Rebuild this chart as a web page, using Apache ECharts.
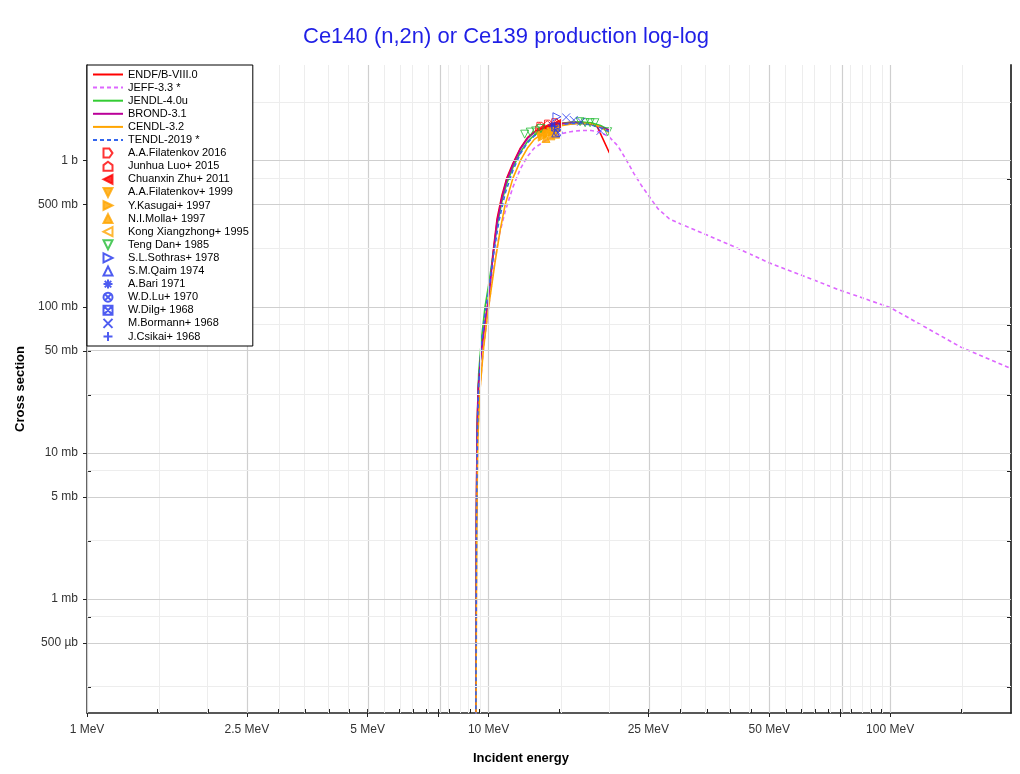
<!DOCTYPE html>
<html><head><meta charset="utf-8">
<script src="https://cdn.jsdelivr.net/npm/echarts@6/dist/echarts.min.js"></script>
<style>html,body{margin:0;padding:0;background:#fff}#chart{width:1020px;height:774px}</style>
</head><body><div id="chart"></div>
<script>
// ---- tick labels / axis values ----
const xLabelValues = [1, 2.5, 5, 10, 25, 50, 100];
const xTickLabels = ['1 MeV', '2.5 MeV', '5 MeV', '10 MeV', '25 MeV', '50 MeV', '100 MeV'];
const yLabelValues = [1, 0.5, 0.1, 0.05, 0.01, 0.005, 0.001, 0.0005];
const yTickLabels = ['1 b', '500 mb', '100 mb', '50 mb', '10 mb', '5 mb', '1 mb', '500 µb'];
const xMajorTicks = [1, 2.5, 5, 7.5, 10, 25, 50, 75, 100];
const xMinorTicks = [1.5, 2, 3, 3.5, 4, 4.5, 5.5, 6, 6.5, 7, 8, 8.5, 9, 9.5, 15, 20, 30, 35, 40, 45, 55, 60, 65, 70, 80, 85, 90, 95, 150];
const yMajorTicks = [1, 0.5, 0.1, 0.05, 0.01, 0.005, 0.001, 0.0005];
const yMinorTicks = [2.5, 0.75, 0.25, 0.075, 0.025, 0.0075, 0.0025, 0.00075, 0.00025];
const xRange = [1, 200];
const yRange = [1.66e-4, 4.52];

// ---- evaluated data (energy MeV, cross section b) ----
const endfE  = [9.29, 9.30, 9.32, 9.36, 9.42, 9.55, 9.75, 10.0, 10.25, 10.5, 10.8, 11.1, 11.5, 12.0, 12.5, 13.0, 14.0, 15.0, 16.0, 17.0, 17.9, 18.6, 20.0];
const endfXS = [1e-5, 2e-4, 0.003, 0.014, 0.028, 0.045, 0.072, 0.115, 0.23, 0.40, 0.58, 0.76, 0.96, 1.22, 1.44, 1.58, 1.72, 1.80, 1.83, 1.83, 1.80, 1.74, 1.13];

const jeffE  = [9.29, 9.31, 9.34, 9.40, 9.5, 9.7, 10.0, 10.3, 10.6, 11.0, 11.5, 12.0, 12.5, 13.0, 14.0, 15.0, 16.0, 17.0, 18.0, 19.0, 20.0, 21.0, 22.0, 23.0, 24.0, 25.0, 26.4, 28.2, 30, 35, 40, 50, 60, 75, 100, 150, 200];
const jeffXS = [1e-5, 2e-4, 0.003, 0.013, 0.026, 0.05, 0.10, 0.18, 0.30, 0.45, 0.66, 0.88, 1.07, 1.22, 1.40, 1.52, 1.58, 1.61, 1.61, 1.57, 1.45, 1.26, 1.02, 0.82, 0.68, 0.58, 0.47, 0.40, 0.37, 0.31, 0.265, 0.20, 0.165, 0.13, 0.099, 0.053, 0.0378];

const jendlE  = [9.29, 9.30, 9.33, 9.37, 9.45, 9.6, 9.8, 10.0, 10.25, 10.5, 10.8, 11.1, 11.5, 12.0, 12.5, 13.0, 14.0, 15.0, 16.0, 17.0, 18.0, 19.0, 20.0];
const jendlXS = [1e-5, 2e-4, 0.004, 0.015, 0.035, 0.06, 0.10, 0.14, 0.22, 0.36, 0.53, 0.70, 0.90, 1.14, 1.35, 1.50, 1.68, 1.78, 1.83, 1.84, 1.82, 1.74, 1.62];

const brondE  = [9.29, 9.30, 9.32, 9.36, 9.42, 9.55, 9.75, 10.0, 10.25, 10.5, 10.8, 11.1, 11.5, 12.0, 12.5, 13.0, 14.0, 15.0, 16.0, 17.0, 18.0, 19.0, 20.0];
const brondXS = [1e-5, 2e-4, 0.003, 0.013, 0.027, 0.044, 0.07, 0.11, 0.22, 0.38, 0.56, 0.74, 0.94, 1.20, 1.42, 1.56, 1.70, 1.78, 1.81, 1.81, 1.77, 1.70, 1.62];

const cendlE  = [9.29, 9.31, 9.34, 9.40, 9.5, 9.7, 9.9, 10.1, 10.4, 10.7, 11.0, 11.5, 12.0, 12.5, 13.0, 14.0, 15.0, 16.0, 17.0, 18.0, 19.0, 20.0];
const cendlXS = [1e-5, 2e-4, 0.003, 0.012, 0.025, 0.05, 0.08, 0.12, 0.21, 0.34, 0.50, 0.76, 1.00, 1.22, 1.40, 1.62, 1.73, 1.78, 1.80, 1.79, 1.70, 1.55];

const tendlE  = [9.29, 9.30, 9.33, 9.38, 9.45, 9.6, 9.8, 10.0, 10.3, 10.6, 11.0, 11.5, 12.0, 12.5, 13.0, 14.0, 15.0, 16.0, 17.0, 18.0, 19.0, 20.0];
const tendlXS = [1e-5, 2e-4, 0.0035, 0.014, 0.03, 0.055, 0.09, 0.13, 0.23, 0.38, 0.60, 0.86, 1.12, 1.33, 1.48, 1.66, 1.76, 1.80, 1.80, 1.76, 1.68, 1.58];

// ---- experimental data (energy MeV, cross section b) ----
const filat2016E = [13.5, 14.1, 14.7];      const filat2016XS = [1.72, 1.78, 1.82];
const luo2015E   = [13.4, 14.0, 14.8];      const luo2015XS   = [1.70, 1.76, 1.80];
const zhu2011E   = [13.5, 14.0, 14.5, 14.8]; const zhu2011XS  = [1.65, 1.70, 1.74, 1.80];
const filat1999E = [13.4, 13.8, 14.3, 14.7]; const filat1999XS = [1.48, 1.52, 1.58, 1.62];
const kasugaiE   = [13.6, 14.0, 14.4, 14.8]; const kasugaiXS  = [1.45, 1.52, 1.57, 1.60];
const mollaE     = [13.9, 14.3, 14.7];      const mollaXS     = [1.42, 1.48, 1.52];
const kongE      = [13.5, 14.1, 14.6];      const kongXS      = [1.55, 1.62, 1.66];
const tengE      = [12.3, 12.7, 13.1, 13.5, 16.9, 17.4, 17.9, 18.4, 19.8];
const tengXS     = [1.52, 1.57, 1.60, 1.66, 1.85, 1.82, 1.82, 1.82, 1.58];
const sothrasE   = [14.8];  const sothrasXS = [2.0];
const qaimE      = [14.7];  const qaimXS    = [1.55];
const bariE      = [14.4];  const bariXS    = [1.75];
const luE        = [14.9];  const luXS      = [1.56];
const dilgE      = [14.7];  const dilgXS    = [1.70];
const bormannE   = [15.6, 16.3, 17.0, 19.0]; const bormannXS = [1.98, 1.90, 1.85, 1.60];
const csikaiE    = [14.6];  const csikaiXS  = [1.72];

const L = Math.log10;
const pts = (E, S) => E.map((e, i) => [L(e), L(S[i])]);
const FONT = 'Liberation Sans, Arial, sans-serif';

const lineSeries = (name, E, S, color, type) => ({
  name, type: 'line', data: pts(E, S), symbol: 'none', showSymbol: false, z: 3,
  lineStyle: { color, width: 1.6, type: type || 'solid' }, itemStyle: { color },
  clip: true, silent: true, animation: false
});
const scat = (name, E, S, symbol, color, filled) => ({
  name, type: 'scatter', data: pts(E, S), symbol, symbolSize: 8, z: 4, symbolKeepAspect: true,
  itemStyle: { color: filled ? color : 'rgba(0,0,0,0)', borderColor: color, borderWidth: 1 },
  silent: true, animation: false
});

const RED = '#ff0000', ORG = '#ffa500', GRN = '#22bb33', BLU = '#2233ee';
const SYM = {
  homeRight: 'path://M-1,-1L0.3,-1L1,0L0.3,1L-1,1Z',
  house: 'path://M0,-1L1,-0.25L1,1L-1,1L-1,-0.25Z',
  triUp: 'path://M0,-1L1,1L-1,1Z',
  triDown: 'path://M-1,-1L1,-1L0,1Z',
  triLeft: 'path://M-1,0L1,-1L1,1Z',
  triRight: 'path://M1,0L-1,-1L-1,1Z',
  asterisk: 'path://M0,-1L0,1M-1,0L1,0M-0.72,-0.72L0.72,0.72M-0.72,0.72L0.72,-0.72',
  circX: 'path://M1,0A1,1,0,1,1,-1,0A1,1,0,1,1,1,0ZM-0.7,-0.7L0.7,0.7M-0.7,0.7L0.7,-0.7',
  sqX: 'path://M-1,-1L1,-1L1,1L-1,1ZM-1,-1L1,1M-1,1L1,-1',
  cross: 'path://M-1,-1L1,1M-1,1L1,-1',
  plus: 'path://M0,-1.2L0,1.2M-1.2,0L1.2,0'
};

const gridLines = [];
xMajorTicks.forEach(v => gridLines.push({ xAxis: L(v), lineStyle: { color: '#cfcfcf', width: 1.2 } }));
xMinorTicks.forEach(v => gridLines.push({ xAxis: L(v), lineStyle: { color: '#ededed', width: 1 } }));
yMajorTicks.forEach(v => gridLines.push({ yAxis: L(v), lineStyle: { color: '#cfcfcf', width: 1.2 } }));
yMinorTicks.forEach(v => gridLines.push({ yAxis: L(v), lineStyle: { color: '#ededed', width: 1 } }));

const series = [
  { name: '_grid', type: 'line', data: [], z: 1, silent: true,
    markLine: { silent: true, symbol: ['none', 'none'], label: { show: false }, animation: false,
      lineStyle: { type: 'solid' }, emphasis: { disabled: true }, data: gridLines } },
  lineSeries('ENDF/B-VIII.0', endfE, endfXS, RED),
  lineSeries('JEFF-3.3 *', jeffE, jeffXS, '#dd66ff', [4, 3]),
  lineSeries('JENDL-4.0u', jendlE, jendlXS, '#33cc33'),
  lineSeries('BROND-3.1', brondE, brondXS, '#bb0099'),
  lineSeries('CENDL-3.2', cendlE, cendlXS, ORG),
  lineSeries('TENDL-2019 *', tendlE, tendlXS, '#3366ee', [4, 3]),
  scat('A.A.Filatenkov 2016', filat2016E, filat2016XS, SYM.homeRight, RED, false),
  scat('Junhua Luo+ 2015', luo2015E, luo2015XS, SYM.house, RED, false),
  scat('Chuanxin Zhu+ 2011', zhu2011E, zhu2011XS, SYM.triLeft, RED, true),
  scat('A.A.Filatenkov+ 1999', filat1999E, filat1999XS, SYM.triDown, ORG, true),
  scat('Y.Kasugai+ 1997', kasugaiE, kasugaiXS, SYM.triRight, ORG, true),
  scat('N.I.Molla+ 1997', mollaE, mollaXS, SYM.triUp, ORG, true),
  scat('Kong Xiangzhong+ 1995', kongE, kongXS, SYM.triLeft, ORG, false),
  scat('Teng Dan+ 1985', tengE, tengXS, SYM.triDown, GRN, false),
  scat('S.L.Sothras+ 1978', sothrasE, sothrasXS, SYM.triRight, BLU, false),
  scat('S.M.Qaim 1974', qaimE, qaimXS, SYM.triUp, BLU, false),
  scat('A.Bari 1971', bariE, bariXS, SYM.asterisk, BLU, false),
  scat('W.D.Lu+ 1970', luE, luXS, SYM.circX, BLU, false),
  scat('W.Dilg+ 1968', dilgE, dilgXS, SYM.sqX, BLU, false),
  scat('M.Bormann+ 1968', bormannE, bormannXS, SYM.cross, BLU, false),
  scat('J.Csikai+ 1968', csikaiE, csikaiXS, SYM.plus, BLU, false)
];

const legendData = series.filter(s => s.name !== '_grid').map(s => s.type === 'line'
  ? { name: s.name, itemStyle: { color: 'rgba(0,0,0,0)', borderColor: 'rgba(0,0,0,0)', borderWidth: 0, opacity: 0 } }
  : { name: s.name });

const fmt = (vals, labels) => v => {
  const i = vals.findIndex(x => Math.abs(L(x) - v) < 1e-4);
  return i >= 0 ? labels[i] : '';
};
const allX = xMajorTicks.concat(xMinorTicks).map(L);
const allY = yMajorTicks.concat(yMinorTicks).map(L);
const xBase = { type: 'value', min: L(xRange[0]), max: L(xRange[1]), position: 'bottom', splitLine: { show: false } };
const yBase = { type: 'value', min: L(yRange[0]), max: L(yRange[1]), splitLine: { show: false } };

const chart = echarts.init(document.getElementById('chart'), null, { renderer: 'canvas' });
chart.setOption({
  animation: false,
  backgroundColor: '#fff',
  title: {
    text: 'Ce140 (n,2n) or Ce139 production log-log', left: 298, top: 21,
    textStyle: { fontFamily: FONT, fontSize: 22, fontWeight: 'normal', color: '#1f1fe6' }
  },
  grid: { left: 87, right: 9, top: 65, bottom: 61, containLabel: false },
  legend: {
    orient: 'vertical', left: 87, top: 65, backgroundColor: '#fff', borderColor: '#000', borderWidth: 1,
    padding: [4, 4, 4, 5], itemGap: 2.1, itemWidth: 30, itemHeight: 9, z: 10,
    textStyle: { fontFamily: FONT, fontSize: 11, lineHeight: 11, color: '#000' },
    data: legendData, selectedMode: false
  },
  xAxis: [
    Object.assign({}, xBase, {
      name: 'Incident energy', nameLocation: 'middle', nameGap: 39,
      nameTextStyle: { fontFamily: FONT, fontSize: 13, fontWeight: 'bold', color: '#000', padding: [0, 56, 0, 0] },
      axisLine: { show: true, onZero: false, lineStyle: { color: '#222', width: 1.5 } },
      axisTick: { show: true, inside: true, length: 4, customValues: allX, lineStyle: { color: '#222' } },
      axisLabel: { show: true, margin: 11, customValues: xLabelValues.map(L), formatter: fmt(xLabelValues, xTickLabels),
        fontFamily: FONT, fontSize: 12, color: '#333' }
    }),
    Object.assign({}, xBase, {
      axisLine: { show: false, onZero: false },
      axisTick: { show: true, inside: false, length: 4, customValues: xMajorTicks.map(L), lineStyle: { color: '#222' } },
      axisLabel: { show: false }
    })
  ],
  yAxis: [
    Object.assign({}, yBase, {
      position: 'left', name: 'Cross section', nameLocation: 'middle', nameGap: 53,
      nameTextStyle: { fontFamily: FONT, fontSize: 13, fontWeight: 'bold', color: '#000' },
      axisLine: { show: true, onZero: false, lineStyle: { color: '#222', width: 1.5 } },
      axisTick: { show: true, inside: true, length: 4, customValues: allY, lineStyle: { color: '#222' } },
      axisLabel: { show: true, margin: 9, customValues: yLabelValues.map(L), formatter: fmt(yLabelValues, yTickLabels),
        fontFamily: FONT, fontSize: 12, color: '#333' }
    }),
    Object.assign({}, yBase, {
      position: 'left', axisLine: { show: false, onZero: false },
      axisTick: { show: true, inside: false, length: 4, customValues: yMajorTicks.map(L), lineStyle: { color: '#222' } },
      axisLabel: { show: false }
    }),
    Object.assign({}, yBase, {
      position: 'right', axisLine: { show: true, onZero: false, lineStyle: { color: '#444', width: 2 } },
      axisTick: { show: true, inside: true, length: 4, customValues: allY, lineStyle: { color: '#222' } },
      axisLabel: { show: false }
    })
  ],
  series
});
</script></body></html>
